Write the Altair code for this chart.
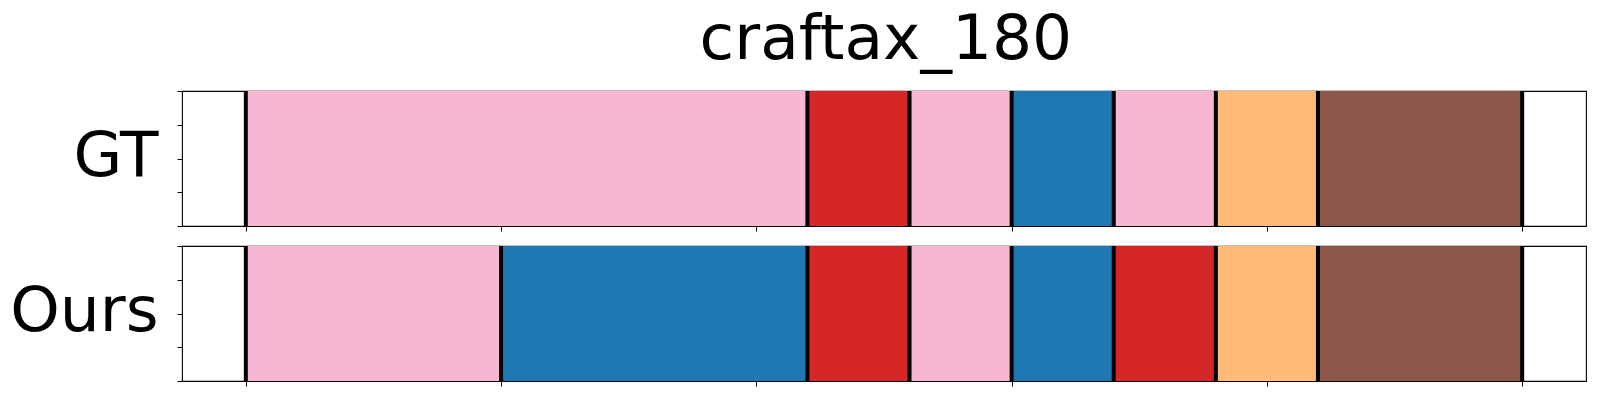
import altair as alt
import pandas as pd

title_text = "craftax_180"
row_names = ["GT", "Ours"]

gt_starts = [0, 110, 130, 150, 170, 190, 210]
gt_ends = [110, 130, 150, 170, 190, 210, 250]
gt_labels = ["pink", "red", "pink", "blue", "pink", "orange", "brown"]

ours_starts = [0, 50, 110, 130, 150, 170, 190, 210]
ours_ends = [50, 110, 130, 150, 170, 190, 210, 250]
ours_labels = ["pink", "blue", "red", "pink", "blue", "red", "orange", "brown"]

color_names = ["pink", "red", "blue", "orange", "brown"]
color_hex = ["#f7b6d2", "#d62728", "#1f77b4", "#ffbb78", "#8c564b"]

x_ticks = [0, 50, 100, 150, 200, 250]
y_ticks = [0, 0.25, 0.5, 0.75, 1]

W, H = 1404, 135


def panel(name, starts, ends, labels):
    seg = pd.DataFrame({"start": starts, "end": ends, "label": labels,
                        "y0": [0] * len(starts), "y1": [1] * len(starts)})
    bnd = pd.DataFrame({"x": starts + [ends[-1]]})
    xs = alt.Scale(domain=[-12.5, 262.5], nice=False, zero=False)
    ys = alt.Scale(domain=[0, 1], nice=False, zero=False)
    xaxis = alt.Axis(values=x_ticks, labels=False, ticks=True, tickSize=5,
                     tickColor="black", tickWidth=1, domain=False, grid=False,
                     title=None)
    yaxis = alt.Axis(values=y_ticks, labels=False, ticks=True, tickSize=5,
                     tickColor="black", tickWidth=1, domain=False, grid=False,
                     title=name, titleAngle=0, titleAlign="right",
                     titleBaseline="alphabetic", titleX=-24, titleY=84,
                     titleFontSize=63, titleFont="DejaVu Sans",
                     titleFontWeight="normal", titleColor="black")
    rects = alt.Chart(seg).mark_rect().encode(
        x=alt.X("start:Q", scale=xs, axis=xaxis),
        x2="end:Q",
        y=alt.Y("y0:Q", scale=ys, axis=yaxis),
        y2="y1:Q",
        color=alt.Color("label:N", scale=alt.Scale(domain=color_names, range=color_hex),
                        legend=None),
    )
    rules = alt.Chart(bnd).mark_rule(color="black", strokeWidth=4).encode(
        x=alt.X("x:Q", scale=xs, axis=xaxis)
    )
    return alt.layer(rects, rules).properties(width=W, height=H)


chart = alt.vconcat(
    panel(row_names[0], gt_starts, gt_ends, gt_labels),
    panel(row_names[1], ours_starts, ours_ends, ours_labels),
    spacing=10,
).properties(
    title=alt.TitleParams(title_text, fontSize=63, font="DejaVu Sans",
                          fontWeight="normal", color="black", anchor="middle",
                          offset=16, dx=88),
    padding={"left": 1, "top": 1, "right": 5, "bottom": 5},
).configure_view(
    stroke="black", strokeWidth=1.1
)

chart.save("out.html", embed_options={"renderer": "svg", "actions": False})
